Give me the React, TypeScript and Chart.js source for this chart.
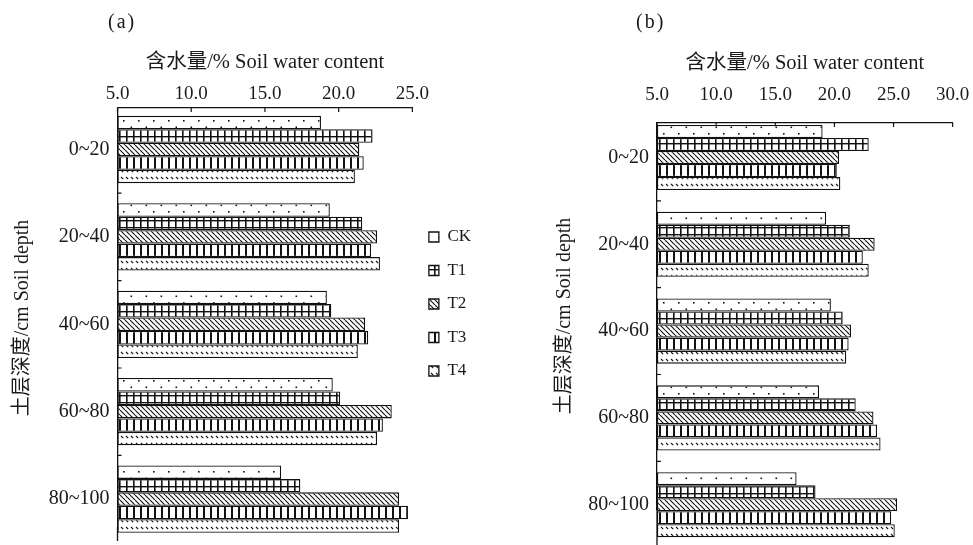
import React, { useEffect, useRef } from 'react';
import { Chart, registerables } from 'chart.js';

Chart.register(...registerables);

// ---- data ----
const depthLabels = ['0~20', '20~40', '40~60', '60~80', '80~100'];
const treatments = ['CK', 'T1', 'T2', 'T3', 'T4'];

// panel (a)
const aCK = [18.8, 19.4, 19.2, 19.6, 16.1];
const aT1 = [22.3, 21.6, 19.5, 20.1, 17.4];
const aT2 = [21.4, 22.6, 21.8, 23.6, 24.1];
const aT3 = [21.7, 22.2, 22.0, 23.0, 24.7];
const aT4 = [21.1, 22.8, 21.3, 22.6, 24.1];

// panel (b)
const bCK = [19.0, 19.3, 19.7, 18.7, 16.8];
const bT1 = [22.9, 21.3, 20.7, 21.8, 18.4];
const bT2 = [20.4, 23.4, 21.4, 23.3, 25.3];
const bT3 = [20.2, 22.4, 21.2, 23.6, 24.8];
const bT4 = [20.5, 22.9, 21.0, 23.9, 25.1];

const xMinA = 5;
const xMaxA = 25;
const xMinB = 5;
const xMaxB = 30;
const xStep = 5;

const xTitle = '含水量/% Soil water content';
const yTitle = '土层深度/cm Soil depth';

const FONT = "'Liberation Serif', 'Noto Sans CJK SC', serif";
const INK = '#1a1a1a';

function makePattern(kind: string): CanvasPattern | string {
  const c = document.createElement('canvas');
  let w = 7;
  let h = 7;
  if (kind === 'dots') { w = 15; h = 13; }
  if (kind === 'diag') { w = 5; h = 5; }
  if (kind === 'dash') { w = 5; h = 7; }
  c.width = w;
  c.height = h;
  const g = c.getContext('2d')!;
  g.fillStyle = '#ffffff';
  g.fillRect(0, 0, w, h);
  g.fillStyle = '#111';
  g.strokeStyle = '#111';
  if (kind === 'dots') {
    g.fillRect(3, 3, 1.6, 1.6);
    g.fillRect(10.5, 9.5, 1.6, 1.6);
  } else if (kind === 'grid') {
    g.fillRect(0, 0, 1.6, h);
    g.fillRect(0, 3, w, 1.4);
  } else if (kind === 'diag') {
    g.lineWidth = 1.1;
    g.beginPath();
    for (const k of [-w, 0, w]) {
      g.moveTo(k, 0);
      g.lineTo(k + w, h);
    }
    g.stroke();
  } else if (kind === 'vline') {
    g.fillRect(0, 0, 2, h);
  } else if (kind === 'dash') {
    g.lineWidth = 1.1;
    g.beginPath();
    g.moveTo(1, 2);
    g.lineTo(3.2, 4.2);
    g.stroke();
  }
  const p = g.createPattern(c, 'repeat');
  return p || '#fff';
}

const patternKinds = ['dots', 'grid', 'diag', 'vline', 'dash'];

function makeDatasets(series: number[][], catPct: number) {
  return series.map((vals, si) => ({
    label: treatments[si],
    data: vals.map((v, i) => ({ x: v, y: i })),
    backgroundColor: makePattern(patternKinds[si]),
    borderColor: '#111',
    borderWidth: 1.3,
    borderSkipped: false,
    base: 5,
    barPercentage: 1,
    categoryPercentage: catPct,
    clip: false,
  }));
}

function innerTicks(axisEnd: number) {
  return {
    id: 'innerTicks',
    beforeDatasetsDraw(chart: any) {
      const { ctx, chartArea, scales } = chart;
      const xs = scales.x;
      const ys = scales.y;
      ctx.save();
      ctx.strokeStyle = '#111';
      ctx.lineWidth = 1.2;
      ctx.beginPath();
      xs.ticks.forEach((t: any) => {
        const px = xs.getPixelForValue(t.value);
        ctx.moveTo(px, chartArea.top);
        ctx.lineTo(px, chartArea.top + 4);
      });
      for (let i = 0; i < depthLabels.length - 1; i++) {
        const py = ys.getPixelForValue(i + 0.5);
        if (py > chartArea.top && py < chartArea.bottom) {
          ctx.moveTo(chartArea.left, py);
          ctx.lineTo(chartArea.left + 4, py);
        }
      }
      ctx.stroke();
      // continue the left axis line below the plotting area
      ctx.lineWidth = 1.3;
      ctx.beginPath();
      ctx.moveTo(chartArea.left, chartArea.bottom - 1);
      ctx.lineTo(chartArea.left, axisEnd);
      ctx.stroke();
      ctx.restore();
    },
  };
}

interface PanelOpts {
  series: number[][];
  xMin: number;
  xMax: number;
  yMin: number;
  yMax: number;
  axisTop: number;
  axisLeftWidth: number;
  axisEnd: number;
  xTitlePadTop: number;
  xTickPad: number;
  yTitlePadTop: number;
  catPct: number;
  padRight: number;
  padBottom: number;
  legend: boolean;
  legendTitlePad: number;
}

function buildConfig(o: PanelOpts): any {
  return {
    type: 'bar',
    data: { datasets: makeDatasets(o.series, o.catPct) },
    options: {
      animation: false,
      responsive: false,
      indexAxis: 'y',
      layout: { padding: { left: 0, top: 0, bottom: o.padBottom, right: o.padRight } },
      scales: {
        x: {
          type: 'linear',
          position: 'top',
          min: o.xMin,
          max: o.xMax,
          offset: false,
          afterFit: (s: any) => {
            s.height = o.axisTop;
            s.paddingLeft = 0;
            s.paddingRight = 0;
          },
          grid: { display: false, drawTicks: false, offset: false },
          border: { display: true, color: '#111', width: 1.3 },
          ticks: {
            stepSize: xStep,
            padding: o.xTickPad,
            color: INK,
            font: { family: FONT, size: 19 },
            maxRotation: 0,
            callback: (v: any) => Number(v).toFixed(1),
          },
          title: {
            display: true,
            text: xTitle,
            color: INK,
            font: { family: FONT, size: 20.5 },
            padding: { top: o.xTitlePadTop, bottom: 0 },
          },
        },
        y: {
          type: 'linear',
          position: 'left',
          reverse: true,
          min: o.yMin,
          max: o.yMax,
          offset: false,
          afterBuildTicks: (s: any) => {
            s.ticks = depthLabels.map((_, i) => ({ value: i }));
            s.min = o.yMin;
            s.max = o.yMax;
          },
          afterFit: (s: any) => {
            s.width = o.axisLeftWidth;
            s.paddingTop = 0;
            s.paddingBottom = 0;
          },
          grid: { display: false, drawTicks: false, offset: false },
          border: { display: true, color: '#111', width: 1.3 },
          ticks: {
            padding: 8,
            color: INK,
            font: { family: FONT, size: 20 },
            autoSkip: false,
            callback: (v: any) => depthLabels[Math.round(Number(v))] ?? '',
          },
          title: {
            display: true,
            text: yTitle,
            color: INK,
            font: { family: FONT, size: 20 },
            padding: { top: o.yTitlePadTop, bottom: 0 },
          },
        },
      },
      plugins: {
        tooltip: { enabled: false },
        legend: {
          display: o.legend,
          position: 'right',
          align: 'center',
          labels: {
            boxWidth: 10,
            boxHeight: 10,
            padding: 16.5,
            color: INK,
            font: { family: FONT, size: 17 },
          },
          title: {
            display: true,
            text: '',
            font: { size: 12 },
            padding: { top: o.legendTitlePad, bottom: 0 },
          },
        },
      },
    },
    plugins: [innerTicks(o.axisEnd)],
  };
}

export default function App() {
  const refA = useRef<HTMLCanvasElement>(null);
  const refB = useRef<HTMLCanvasElement>(null);

  useEffect(() => {
    const cA = new Chart(refA.current!, buildConfig({
      series: [aCK, aT1, aT2, aT3, aT4],
      xMin: xMinA,
      xMax: xMaxA,
      yMin: -0.4748,
      yMax: 4.331,
      axisTop: 108,
      axisLeftWidth: 117.5,
      axisEnd: 541,
      xTitlePadTop: 50.3,
      xTickPad: 3,
      yTitlePadTop: 10.5,
      catPct: 0.77,
      padRight: 0,
      padBottom: 13,
      legend: true,
      legendTitlePad: 65.6,
    }));
    const cB = new Chart(refB.current!, buildConfig({
      series: [bCK, bT1, bT2, bT3, bT4],
      xMin: xMinB,
      xMax: xMaxB,
      yMin: -0.397,
      yMax: 4.0496,
      axisTop: 123,
      axisLeftWidth: 117,
      axisEnd: 545,
      xTitlePadTop: 51.8,
      xTickPad: 16.6,
      yTitlePadTop: 12.5,
      catPct: 0.75,
      padRight: 20.3,
      padBottom: 36,
      legend: false,
      legendTitlePad: 0,
    }));
    return () => {
      cA.destroy();
      cB.destroy();
    };
  }, []);

  const panelLabel: React.CSSProperties = {
    position: 'absolute',
    top: 9,
    fontFamily: FONT,
    fontSize: 20,
    lineHeight: '24px',
    letterSpacing: 2,
    color: INK,
  };

  return (
    <div style={{ position: 'fixed', left: 0, top: 0, width: 973, height: 545, overflow: 'hidden', background: '#fff' }}>
      <canvas ref={refA} width={481} height={541} style={{ position: 'absolute', left: 0, top: 0, display: 'block' }} />
      <canvas ref={refB} width={433} height={545} style={{ position: 'absolute', left: 540, top: 0, display: 'block' }} />
      <div style={{ ...panelLabel, left: 108 }}>(a)</div>
      <div style={{ ...panelLabel, left: 636 }}>(b)</div>
    </div>
  );
}
